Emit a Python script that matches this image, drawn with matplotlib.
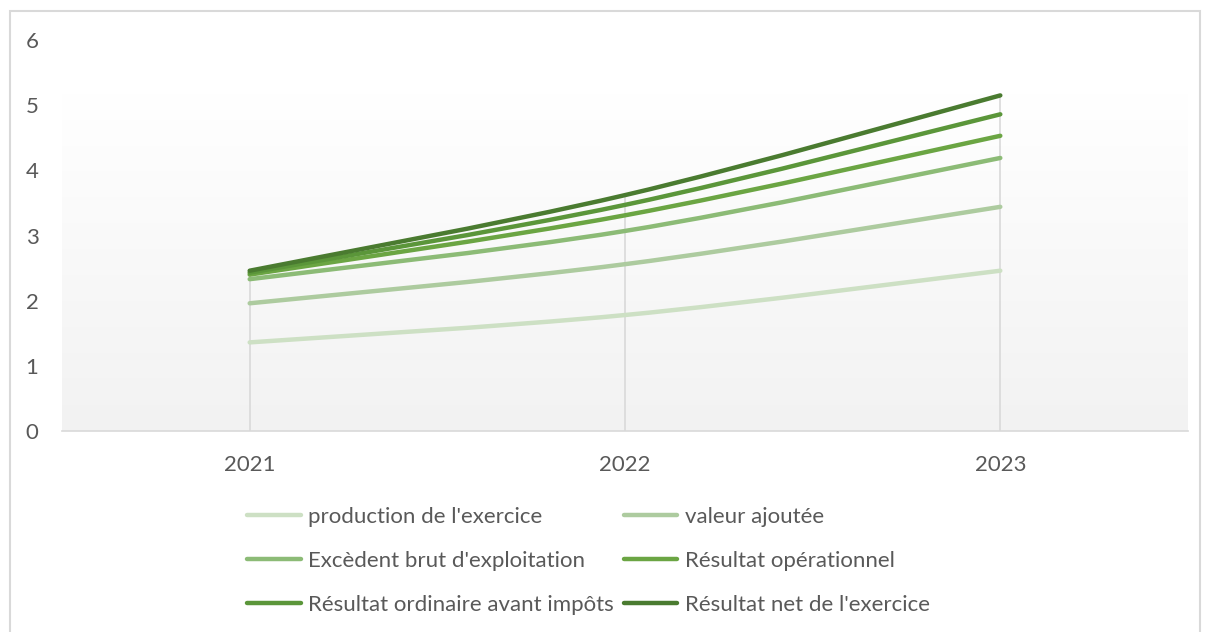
import numpy as np
import matplotlib.pyplot as plt
from matplotlib.path import Path
from matplotlib.patches import PathPatch, Rectangle
from matplotlib.lines import Line2D

plt.rcParams['font.family'] = ['Lato', 'DejaVu Sans']

# data
years = ['2021', '2022', '2023']
production = [1.36, 1.78, 2.46]
valeur_ajoutee = [1.96, 2.56, 3.44]
ebe = [2.33, 3.07, 4.19]
res_operationnel = [2.40, 3.31, 4.53]
res_ordinaire = [2.43, 3.47, 4.86]
res_net = [2.46, 3.62, 5.15]

labels = ["production de l'exercice", "valeur ajoutée",
          "Excèdent brut d'exploitation", "Résultat opérationnel",
          "Résultat ordinaire avant impôts", "Résultat net de l'exercice"]
series = [production, valeur_ajoutee, ebe, res_operationnel, res_ordinaire, res_net]
colors = ['#cde0c4', '#adcb9f', '#8cbb76', '#6ba543', '#5b963a', '#4a7b30']

text_col = '#595959'
grid_col = '#d9d9d9'


def smooth_path(xs, ys):
    # excel-like smoothed line as cubic bezier segments
    pts = np.column_stack([xs, ys]).astype(float)
    n = len(pts)
    verts = [pts[0]]
    codes = [Path.MOVETO]
    for i in range(n - 1):
        p0 = pts[max(i - 1, 0)]
        p1 = pts[i]
        p2 = pts[i + 1]
        p3 = pts[min(i + 2, n - 1)]
        c1 = p1 + (p2 - p0) / 6.0
        c2 = p2 - (p3 - p1) / 6.0
        verts += [c1, c2, p2]
        codes += [Path.CURVE4] * 3
    return Path(verts, codes)


fig = plt.figure(figsize=(12.09, 6.32), dpi=100)
ax = fig.add_axes([0.0513, 0.318, 0.9313, 0.6187])

x = np.arange(len(years))
ax.set_xlim(-0.5, len(years) - 0.5)
ax.set_ylim(0, 6)

# plot area gradient
grad = np.linspace(0, 1, 256).reshape(-1, 1)
ax.imshow(grad, extent=[-0.5, len(years) - 0.5, 0, 5.18], aspect='auto',
          cmap=plt.matplotlib.colors.LinearSegmentedColormap.from_list('g', ['#f2f2f2', '#ffffff']),
          origin='lower', zorder=0)

# drop lines
tops = np.max(np.array(series), axis=0)
ax.vlines(x, 0, tops, color=grid_col, lw=1.2, zorder=1)

handles = []
for vals, col, lab in zip(series, colors, labels):
    ax.add_patch(PathPatch(smooth_path(x, vals), fill=False, edgecolor=col,
                           lw=3.2, capstyle='round', zorder=3))
    handles.append(Line2D([], [], color=col, lw=3.2, solid_capstyle='round'))

for s in ['top', 'right', 'left']:
    ax.spines[s].set_visible(False)
ax.spines['bottom'].set_color(grid_col)
ax.spines['bottom'].set_linewidth(1.2)

ax.set_xticks(x)
ax.set_xticklabels(years)
ax.set_yticks(range(0, 7))
ax.tick_params(length=0, labelsize=16, colors=text_col)
ax.tick_params(axis='x', pad=17)
ax.tick_params(axis='y', pad=17)

# legend is filled row by row in the original
order = [0, 2, 4, 1, 3, 5]
fig.legend([handles[i] for i in order], [labels[i] for i in order], ncol=2,
           loc='center', bbox_to_anchor=(0.487, 0.112),
           frameon=False, fontsize=16, labelcolor=text_col, handlelength=2.4,
           handletextpad=0.35, columnspacing=0.45, labelspacing=1.08)

# chart border
fig.patches.append(Rectangle((10 / 1209, -0.01), 1190 / 1209, 1 - 11 / 632 + 0.01,
                             transform=fig.transFigure, fill=False,
                             edgecolor=grid_col, lw=1.5))

fig.savefig('out.png', dpi=100)
